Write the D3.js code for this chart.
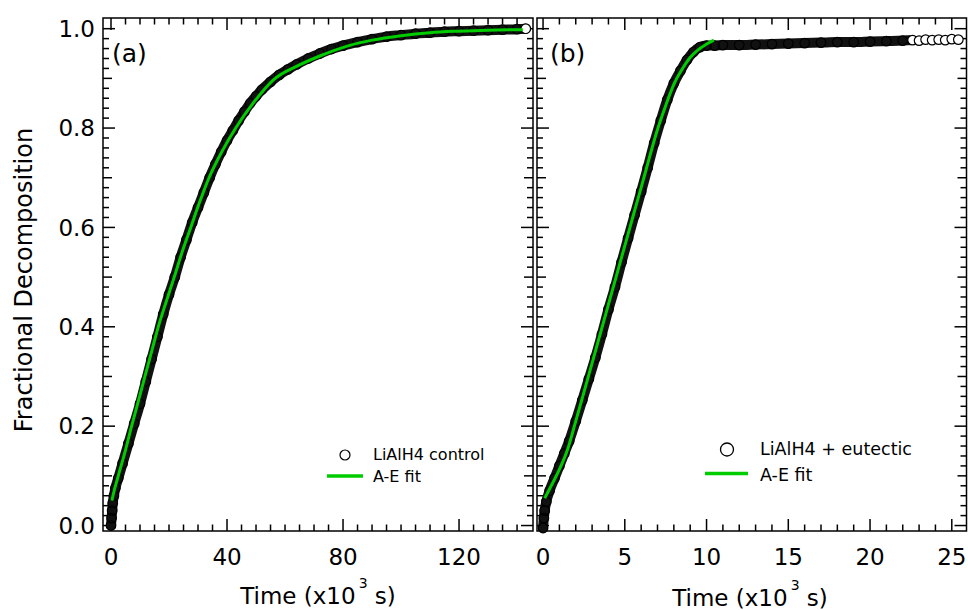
<!DOCTYPE html>
<html>
<head>
<meta charset="utf-8">
<script src="https://cdn.jsdelivr.net/npm/d3@7"></script>
<style>
body { margin: 0; background: #fff; }
svg { display: block; font-family: "DejaVu Sans", sans-serif; }
</style>
</head>
<body>
<svg id="chart" width="968" height="610"></svg>
<script>
// values, time in 10^3 s

// (a) LiAlH4 control
var timeA = [0, 0.2, 0.4, 0.6, 1.0, 1.5, 2.5, 4, 6, 8, 10, 12, 14, 16, 18, 20, 22, 24, 26, 28, 30,
    32, 34, 36, 38, 40, 42, 44, 46, 48, 50, 52, 55, 58, 61, 64, 68, 72, 76, 80, 85, 90, 95, 100,
    105, 110, 115, 120, 125, 130, 135, 140, 143];
var fracA = [0.0, 0.015, 0.03, 0.045, 0.06, 0.075, 0.095, 0.125, 0.165, 0.205, 0.245, 0.29, 0.335,
    0.38, 0.425, 0.465, 0.5, 0.54, 0.575, 0.61, 0.64, 0.67, 0.7, 0.727, 0.752, 0.775, 0.795, 0.815,
    0.833, 0.85, 0.864, 0.877, 0.893, 0.907, 0.918, 0.928, 0.94, 0.95, 0.959, 0.966, 0.973, 0.979,
    0.984, 0.987, 0.99, 0.992, 0.994, 0.995, 0.996, 0.997, 0.998, 0.999, 1.0];
var fitTimeA = [0.3, 1, 2.5, 5, 7.1, 9.4, 11.7, 14, 16.3, 19, 21.8, 24.5, 27.5, 30.5, 33.8, 38, 43,
    49, 56, 65, 72, 82, 90, 100, 110, 120, 130, 142];
var fitFracA = [0.05, 0.068, 0.1, 0.152, 0.2, 0.25, 0.3, 0.35, 0.4, 0.45, 0.5, 0.55, 0.6, 0.65, 0.7,
    0.75, 0.8, 0.85, 0.897, 0.927, 0.945, 0.966, 0.977, 0.986, 0.992, 0.995, 0.997, 0.998];

// (b) LiAlH4 + eutectic
var timeB = [0, 0.05, 0.1, 0.2, 0.4, 0.7, 1.0, 1.3, 1.6, 2.0, 2.4, 2.8, 3.2, 3.6, 4.0, 4.4, 4.8, 5.2,
    5.6, 6.0, 6.4, 6.8, 7.2, 7.6, 8.0, 8.4, 8.8, 9.2, 9.6, 10.0, 10.5, 11, 12, 13, 14, 15, 16, 17,
    18, 19, 20, 21, 22, 22.6, 23.0, 23.4, 23.8, 24.2, 24.6, 25.0, 25.4];
var fracB = [-0.005, 0.015, 0.03, 0.048, 0.07, 0.095, 0.12, 0.145, 0.17, 0.21, 0.252, 0.295, 0.338,
    0.385, 0.435, 0.48, 0.53, 0.578, 0.625, 0.672, 0.72, 0.77, 0.815, 0.857, 0.89, 0.915, 0.937,
    0.953, 0.963, 0.966, 0.966, 0.967, 0.967, 0.968, 0.969, 0.97, 0.971, 0.972, 0.973, 0.973,
    0.974, 0.975, 0.976, 0.977, 0.976, 0.978, 0.977, 0.978, 0.977, 0.979, 0.978];
var fitTimeB = [0.1, 0.5, 1, 1.5, 2, 2.5, 3, 3.5, 4, 4.5, 5, 5.5, 6, 6.5, 7, 7.5, 8, 8.5, 9, 9.5, 10, 10.45];
var fitFracB = [0.055, 0.08, 0.113, 0.153, 0.21, 0.268, 0.327, 0.386, 0.445, 0.504, 0.563, 0.622,
    0.68, 0.74, 0.797, 0.845, 0.888, 0.918, 0.942, 0.958, 0.969, 0.977];

var yTickLabels = [0, 0.2, 0.4, 0.6, 0.8, 1.0];
var xTicksA = [0, 40, 80, 120];
var xTicksB = [0, 5, 10, 15, 20, 25];

var svg = d3.select('#chart');
var green = '#00cc00';
var plotTop = 18, plotBottom = 531;

var y = d3.scaleLinear().domain([-0.011, 1.0215]).range([plotBottom, plotTop]);
var xA = d3.scaleLinear().domain([-2.76, 145.5]).range([103, 533]);
var xB = d3.scaleLinear().domain([-0.37, 25.9]).range([537, 966.5]);

function zip(ts, fs) {
    return ts.map(function (t, i) { return { t: t, f: fs[i] }; });
}

function drawPanel(x, data, fit, majors, minorStep, r, nOpen) {
    var g = svg.append('g');
    var x0 = x.range()[0], x1 = x.range()[1];

    // y ticks on both sides, pointing in
    d3.range(0, 51).forEach(function (k) {
        var yy = y(k / 50);
        var len = k % 10 === 0 ? 12 : (k % 5 === 0 ? 9 : 6);
        g.append('line').attr('x1', x0).attr('x2', x0 + len).attr('y1', yy).attr('y2', yy);
        g.append('line').attr('x1', x1).attr('x2', x1 - len).attr('y1', yy).attr('y2', yy);
    });

    // x ticks top and bottom
    var dmax = x.domain()[1] - minorStep * 0.3;
    d3.range(0, dmax, minorStep).forEach(function (v) {
        var xx = x(v);
        var major = majors.some(function (m) { return Math.abs(m - v) < 1e-6; });
        var len = major ? 12 : 6.5;
        g.append('line').attr('x1', xx).attr('x2', xx).attr('y1', plotBottom).attr('y2', plotBottom - len);
        g.append('line').attr('x1', xx).attr('x2', xx).attr('y1', plotTop).attr('y2', plotTop + len);
    });
    g.selectAll('line').attr('stroke', '#000').attr('stroke-width', 1.5);

    g.append('rect')
        .attr('x', x0).attr('y', plotTop)
        .attr('width', x1 - x0).attr('height', plotBottom - plotTop)
        .attr('fill', 'none').attr('stroke', '#000').attr('stroke-width', 1.5);

    g.selectAll('.xlab')
        .data(majors)
        .enter()
        .append('text')
        .attr('x', function (d) { return x(d); })
        .attr('y', 565)
        .attr('text-anchor', 'middle')
        .attr('font-size', 23)
        .text(function (d) { return d; });

    var line = d3.line()
        .x(function (d) { return x(d.t); })
        .y(function (d) { return y(d.f); })
        .curve(d3.curveMonotoneX);

    // dense markers merge into a dark band
    g.append('path')
        .attr('d', line(data.slice(0, data.length - nOpen + 1)))
        .attr('fill', 'none')
        .attr('stroke', '#111')
        .attr('stroke-width', 10)
        .attr('stroke-linecap', 'round')
        .attr('stroke-linejoin', 'round');

    g.selectAll('.pt')
        .data(data)
        .enter()
        .append('circle')
        .attr('cx', function (d) { return x(d.t); })
        .attr('cy', function (d) { return y(d.f); })
        .attr('r', r)
        .attr('fill', function (d, i) { return i >= data.length - nOpen ? '#fff' : 'none'; })
        .attr('stroke', '#000')
        .attr('stroke-width', 1.2);

    g.append('path')
        .attr('d', line(fit))
        .attr('fill', 'none')
        .attr('stroke', green)
        .attr('stroke-width', 3);

    return g;
}

var gA = drawPanel(xA, zip(timeA, fracA), zip(fitTimeA, fitFracA), xTicksA, 5, 4.8, 1);
var gB = drawPanel(xB, zip(timeB, fracB), zip(fitTimeB, fitFracB), xTicksB, 1, 4.8, 8);

// shared y labels
svg.selectAll('.ylab')
    .data(yTickLabels)
    .enter()
    .append('text')
    .attr('x', 95)
    .attr('y', function (d) { return y(d); })
    .attr('dy', '0.36em')
    .attr('text-anchor', 'end')
    .attr('font-size', 23)
    .text(function (d) { return d.toFixed(1); });

svg.append('text')
    .attr('transform', 'translate(32,280) rotate(-90)')
    .attr('text-anchor', 'middle')
    .attr('font-size', 24)
    .text('Fractional Decomposition');

function timeTitle(cx, baseline) {
    var t = svg.append('text')
        .attr('x', cx).attr('y', baseline)
        .attr('text-anchor', 'middle')
        .attr('font-size', 23);
    t.append('tspan').text('Time (x10');
    t.append('tspan').attr('font-size', 14).attr('dx', 3).attr('dy', -16).text('3');
    t.append('tspan').attr('dy', 16).text(' s)');
}
timeTitle(318, 604);
timeTitle(750, 606);

svg.append('text').attr('x', 112).attr('y', 62).attr('font-size', 25).text('(a)');
svg.append('text').attr('x', 550).attr('y', 62).attr('font-size', 25).text('(b)');

// legends
svg.append('circle').attr('cx', 345).attr('cy', 455).attr('r', 5)
    .attr('fill', '#fff').attr('stroke', '#000').attr('stroke-width', 1.2);
svg.append('text').attr('x', 373).attr('y', 460).attr('font-size', 16).text('LiAlH4 control');
svg.append('line').attr('x1', 327).attr('x2', 363).attr('y1', 476).attr('y2', 476)
    .attr('stroke', green).attr('stroke-width', 3.5);
svg.append('text').attr('x', 373).attr('y', 482).attr('font-size', 16).text('A-E fit');

svg.append('circle').attr('cx', 727).attr('cy', 449.5).attr('r', 6.5)
    .attr('fill', '#fff').attr('stroke', '#000').attr('stroke-width', 1.3);
svg.append('text').attr('x', 760).attr('y', 455).attr('font-size', 17.5).text('LiAlH4 + eutectic');
svg.append('line').attr('x1', 705).attr('x2', 748).attr('y1', 473.5).attr('y2', 473.5)
    .attr('stroke', green).attr('stroke-width', 3.5);
svg.append('text').attr('x', 760).attr('y', 481).attr('font-size', 17.5).text('A-E fit');
</script>
</body>
</html>
